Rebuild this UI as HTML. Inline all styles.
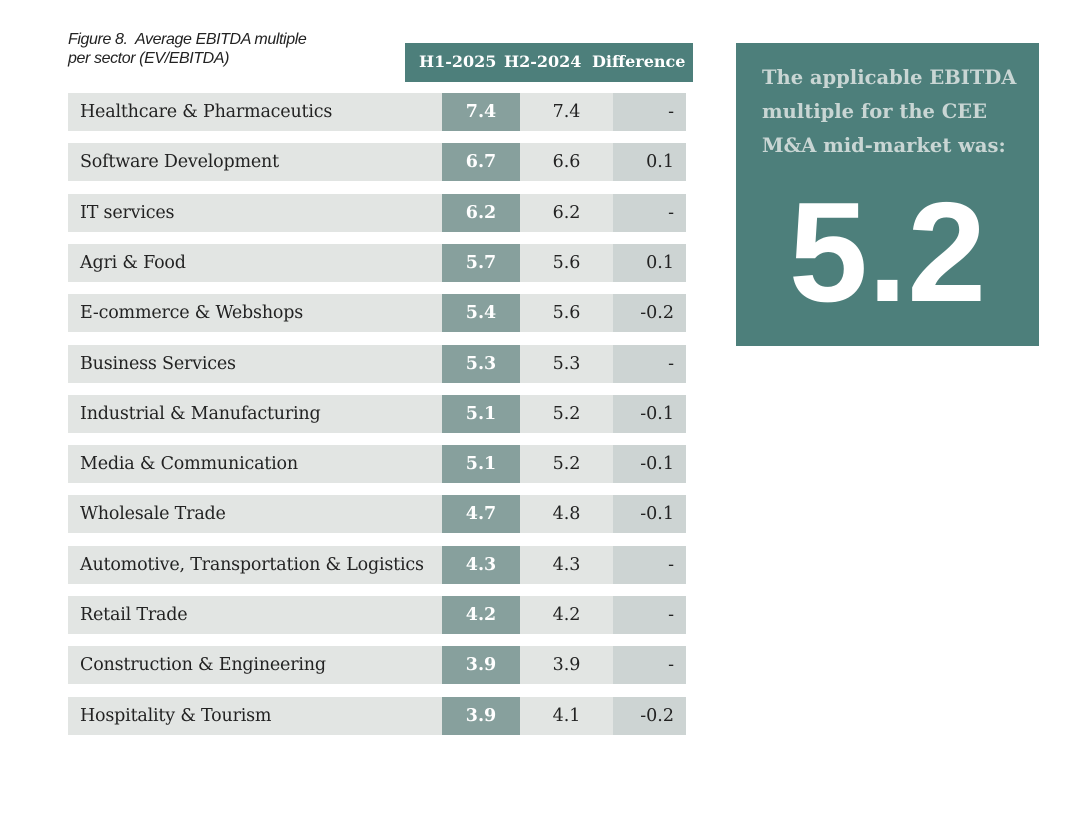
<!DOCTYPE html>
<html><head><meta charset="utf-8"><style>
body{margin:0;width:1090px;height:828px;background:#fff;position:relative;overflow:hidden;font-family:"DejaVu Serif","Liberation Serif",serif}
.t{position:absolute;left:68px;top:30px;font:italic 16px "Liberation Sans",sans-serif;line-height:19px;color:#222;letter-spacing:-0.4px}
.hdr{position:absolute;left:405px;top:43px;width:288px;height:39px;background:#4d7f7b;color:#fff;font-size:16px;font-weight:bold}
.hdr span{position:absolute;top:9px}
.row{position:absolute;left:68px;width:618px;height:38px;background:#e2e5e3;font-size:17.5px;color:#222}
.row div{position:absolute;top:0;height:38px;line-height:38px}
.box{position:absolute;left:736px;top:43px;width:303px;height:303px;background:#4d7f7b}
.box .a{position:absolute;left:26px;top:18px;width:270px;color:#c9d6d4;font-size:19.5px;font-weight:bold;line-height:34px}
.box .b{position:absolute;left:0;width:303px;top:130px;text-align:center;color:#fff;font:bold 142px "Liberation Sans",sans-serif;line-height:160px}
</style></head><body>
<div class="t">Figure 8.&nbsp; Average EBITDA multiple<br>per sector (EV/EBITDA)</div>
<div class="hdr"><span style="left:14px">H1-2025</span><span style="left:99px">H2-2024</span><span style="left:187px">Difference</span></div>
<div id="rows"></div>
<div class="box"><div class="a">The applicable EBITDA multiple for the CEE M&amp;A mid-market was:</div><div class="b">5.2</div></div>
<script>
const sectors=["Healthcare & Pharmaceutics","Software Development","IT services","Agri & Food","E-commerce & Webshops","Business Services","Industrial & Manufacturing","Media & Communication","Wholesale Trade","Automotive, Transportation & Logistics","Retail Trade","Construction & Engineering","Hospitality & Tourism"];
const h1=[7.4,6.7,6.2,5.7,5.4,5.3,5.1,5.1,4.7,4.3,4.2,3.9,3.9];
const h2=[7.4,6.6,6.2,5.6,5.6,5.3,5.2,5.2,4.8,4.3,4.2,3.9,4.1];
const diff=["-","0.1","-","0.1","-0.2","-","-0.1","-0.1","-0.1","-","-","-","-0.2"];
const c=document.getElementById('rows');
sectors.forEach((s,i)=>{
 const r=document.createElement('div');r.className='row';r.style.top=(93+i*50.3)+'px';
 
 
 r.innerHTML=`<div style="left:12px;white-space:nowrap;letter-spacing:-0.2px">${s.replace('&','&amp;')}</div>
 <div style="left:374px;width:78px;background:#87a09d;color:#fff;font-weight:bold;text-align:center">${h1[i].toFixed(1)}</div>
 <div style="left:452px;width:93px;text-align:center">${h2[i].toFixed(1)}</div>
 <div style="left:545px;width:73px;background:#cdd4d3;text-align:right;box-sizing:border-box;padding-right:12px">${diff[i]}</div>`;
 c.appendChild(r);
});
</script>
</body></html>
